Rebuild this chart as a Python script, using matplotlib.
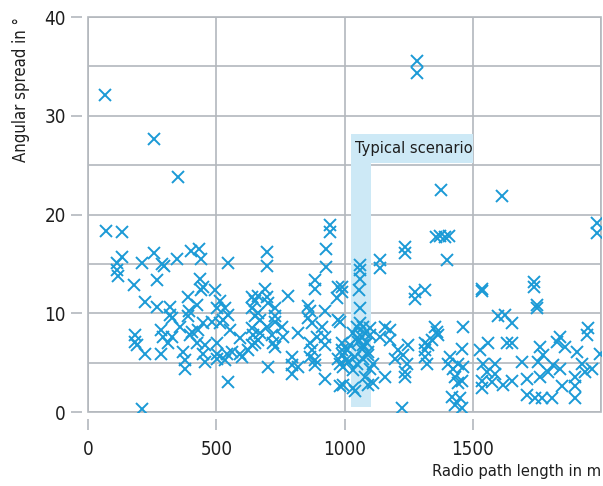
import matplotlib
matplotlib.use("Agg")
import matplotlib.pyplot as plt
from matplotlib.patches import Rectangle

plt.rcParams['font.family'] = ['DejaVu Sans']
plt.rcParams['font.stretch'] = 'condensed'

# radio path length (m) and angular spread (deg)
path_len = [
    66, 257, 351, 69, 134, 134, 112, 112, 116, 180, 212, 258, 290, 298, 345,
    267, 222, 268, 320, 320, 329, 183, 183, 190, 222, 284, 293, 313, 284, 212,
    400, 434, 439, 547, 436, 449, 439, 495, 391, 423, 514, 534, 501, 638, 651,
    638, 395, 391, 547, 527, 359, 449, 482, 514, 553, 404, 430, 638, 644, 326,
    397, 592, 423, 456, 501, 638, 371, 449, 501, 540, 560, 592, 625, 378, 456,
    501, 534, 599, 378, 547,
    943, 943, 926, 926, 696, 696, 885, 885, 976, 969, 690, 664, 696, 781, 729,
    703, 859, 865, 924, 976, 664, 670, 729, 729, 859, 872, 911, 696, 755, 820,
    670, 716, 761, 891, 924, 664, 722, 729, 865, 924, 872, 989, 794, 865, 885,
    976, 703, 794, 820, 885, 982, 794, 924, 982, 651, 651,
    1060, 1060, 1060, 1057, 1060, 1138, 1138, 1235, 1235, 1274, 1274, 1313, 989,
    989, 982, 1047, 1073, 1099, 1157, 1177, 1034, 1066, 1099, 1138, 1177, 1053,
    1086, 989, 1066, 1008, 1092, 995, 1040, 1073, 1014, 1047, 1112, 995, 1034,
    1099, 1079, 1157, 1112, 1092, 1034, 1040, 995, 1248, 1209, 1229, 1242, 1196,
    1235, 1235, 1222, 1313, 1313, 1313, 1320, 1060, 1080, 1050, 1070, 1090, 1020,
    1005,
    1283, 1283, 1376, 1612, 1355, 1372, 1390, 1405, 1398, 1534, 1534, 1463, 1352,
    1359, 1365, 1339, 1326, 1456, 1599, 1625, 1651, 1631, 1560, 1528, 1411, 1443,
    1404, 1424, 1463, 1541, 1586, 1554, 1586, 1430, 1456, 1443, 1534, 1573, 1618,
    1534, 1417, 1450, 1430, 1456,
    1984, 1984, 1738, 1738, 1748, 1748, 1651, 1839, 1826, 1950, 1943, 1761, 1774,
    1859, 1904, 1995, 1690, 1755, 1813, 1924, 1963, 1651, 1709, 1761, 1794, 1839,
    1898, 1937, 1846, 1898, 1709, 1742, 1768, 1807, 1898,
]
spread = [
    32.1, 27.6, 23.8, 18.3, 18.2, 15.7, 15.1, 14.4, 13.8, 12.9, 15.1, 16.1, 15.0, 14.8, 15.5,
    13.4, 11.1, 10.6, 10.6, 9.8, 9.5, 7.8, 7.1, 6.8, 5.9, 8.3, 7.6, 7.0, 5.9, 0.3,
    16.3, 16.5, 15.5, 15.1, 13.5, 12.7, 12.4, 12.4, 11.7, 10.8, 11.3, 10.5, 10.5, 11.7, 11.3,
    10.5, 10.2, 9.7, 9.8, 9.3, 8.6, 9.0, 9.1, 9.0, 8.3, 8.1, 8.3, 8.5, 7.8, 7.6,
    7.8, 7.5, 7.0, 6.8, 7.0, 6.8, 6.1, 5.9, 5.9, 5.9, 6.1, 5.9, 6.3, 5.3, 5.1,
    5.4, 5.3, 5.6, 4.4, 3.0,
    18.9, 18.2, 16.5, 14.7, 16.2, 14.8, 13.4, 12.5, 12.7, 11.6, 12.5, 11.8, 11.7, 11.8, 10.5,
    11.0, 10.7, 10.2, 10.2, 9.3, 10.0, 9.3, 9.7, 9.1, 9.5, 9.0, 8.6, 8.6, 8.6, 8.0,
    8.0, 7.8, 7.6, 7.6, 7.6, 7.3, 7.0, 6.6, 7.0, 6.8, 6.3, 6.3, 5.6, 5.6, 5.3,
    5.4, 4.6, 4.8, 4.6, 4.8, 4.9, 3.9, 3.4, 2.6, 9.7, 7.0,
    14.9, 14.4, 13.5, 12.4, 10.5, 15.4, 14.6, 16.7, 16.1, 12.2, 11.5, 12.4, 12.7,
    12.2, 9.1, 8.6, 8.6, 8.5, 8.6, 8.3, 8.0, 7.6, 7.8, 7.6, 7.3, 7.1,
    7.0, 7.0, 6.4, 6.3, 6.1, 5.8, 5.6, 5.4, 5.1, 4.9, 4.9, 4.6, 4.3,
    4.4, 3.6, 3.6, 2.9, 2.7, 2.4, 2.1, 2.7, 6.8, 6.3, 5.8, 4.9, 5.4,
    4.1, 3.6, 0.4, 7.0, 6.3, 5.6, 4.9, 9.0, 8.0, 7.5, 6.8, 5.8, 6.8,
    5.3,
    35.5, 34.3, 22.5, 21.9, 17.7, 17.8, 17.7, 17.8, 15.4, 12.5, 12.3, 8.6, 8.6,
    8.1, 7.8, 7.3, 6.8, 6.4, 9.7, 9.8, 9.0, 7.0, 7.0, 6.3, 5.6, 4.9,
    4.9, 4.4, 4.6, 4.9, 4.9, 4.1, 3.9, 3.6, 3.2, 2.9, 3.2, 3.1, 2.7,
    2.4, 1.5, 1.4, 0.7, 0.4,
    19.1, 18.1, 13.2, 12.7, 10.8, 10.5, 7.0, 7.6, 7.1, 8.5, 7.8, 6.6, 5.8,
    6.6, 6.1, 5.9, 5.1, 5.1, 4.8, 4.9, 4.4, 3.2, 3.4, 3.6, 4.1, 4.4,
    3.6, 4.1, 2.6, 2.6, 1.7, 1.4, 1.4, 1.4, 1.4,
]

x_ticks = [0, 500, 1000, 1500]
y_ticks = [0, 10, 20, 30, 40]
# typical scenario band
band_x = (1025, 1103)
band_y = (0.5, 28.2)
label_box_x = (1025, 1500)
label_box_y = (25.2, 28.2)

blue = '#1b9ad6'
light = '#cde9f6'
grid_c = '#b3b8bd'
txt = '#1e1e1e'

fig = plt.figure(figsize=(6.03, 4.86), dpi=100)
ax = fig.add_axes([0.146, 0.152, 0.851, 0.813])

ax.add_patch(Rectangle((band_x[0], band_y[0]), band_x[1] - band_x[0], band_y[1] - band_y[0],
                       facecolor=light, edgecolor='none', zorder=2))
ax.add_patch(Rectangle((label_box_x[0], label_box_y[0]), label_box_x[1] - label_box_x[0],
                       label_box_y[1] - label_box_y[0], facecolor=light, edgecolor='none', zorder=2))
ax.text(label_box_x[0] + 14, (label_box_y[0] + label_box_y[1]) / 2, 'Typical scenario',
        fontsize=11.8, va='center', ha='left', color=txt, zorder=3)

ax.plot(path_len, spread, 'x', color=blue, markersize=8, markeredgewidth=1.4, zorder=4)

ax.set_xlim(0, 2000)
ax.set_ylim(0, 40)
ax.set_xticks(x_ticks)
ax.set_xticks([2000], minor=True)
ax.set_yticks(y_ticks)
ax.set_yticks([5, 15, 25, 35], minor=True)
ax.grid(True, which='both', color=grid_c, linewidth=1.2, zorder=1)
ax.set_axisbelow(True)

for s in ax.spines.values():
    s.set_visible(False)
ax.spines['left'].set_position(('outward', 4))
ax.spines['bottom'].set_position(('outward', 5))
ax.add_patch(Rectangle((0, 0), 1, 1, transform=ax.transAxes, fill=False,
                       edgecolor=grid_c, linewidth=1.2, clip_on=False, zorder=1))

ax.tick_params(which='major', length=8, width=1.2, color=grid_c, labelsize=13.5, labelcolor=txt)
ax.tick_params(axis='x', which='major', pad=7)
ax.tick_params(axis='y', which='major', pad=4)
ax.tick_params(which='minor', length=0)

ax.set_ylabel('Angular spread in °', loc='top', fontsize=12, color=txt, labelpad=10)
ax.set_xlabel('Radio path length in m', loc='right', fontsize=11.8, color=txt, labelpad=4)

fig.savefig('out.png', dpi=100)
